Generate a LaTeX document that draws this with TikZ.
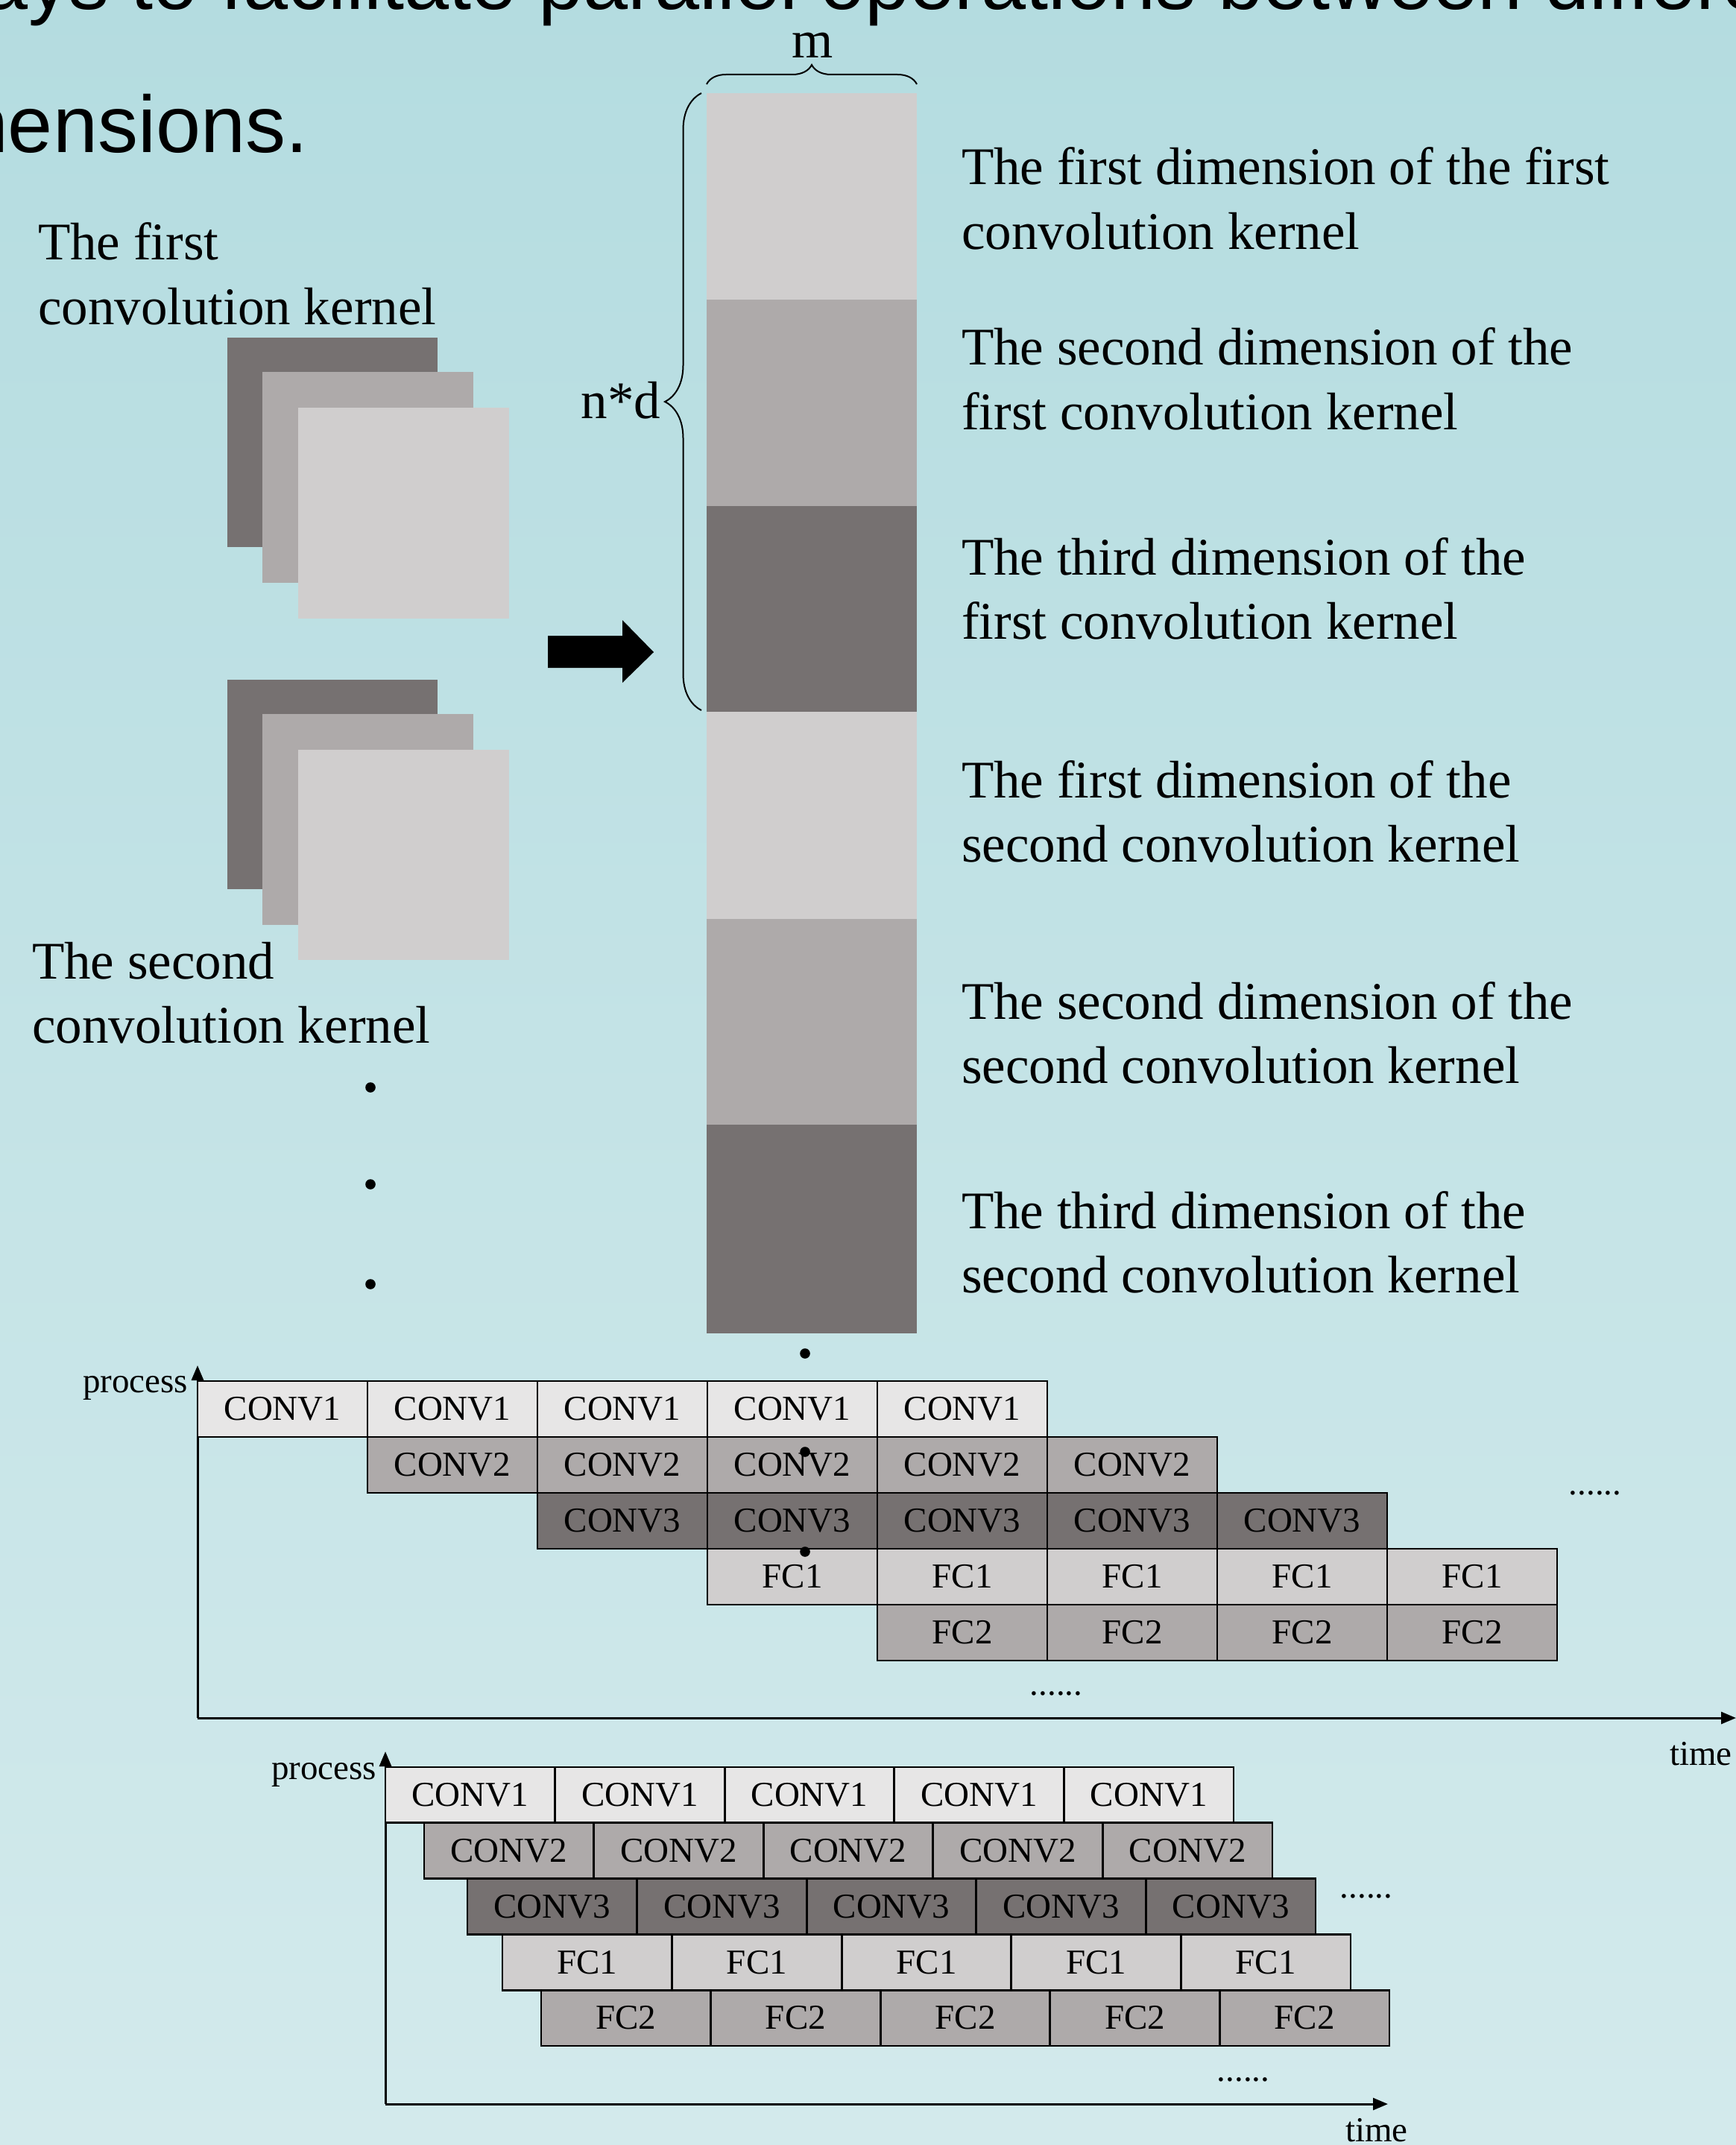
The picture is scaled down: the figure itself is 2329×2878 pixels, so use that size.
\documentclass[tikz,border=0pt]{standalone}
\usepackage{fontspec}
\setmainfont{Liberation Serif}
\newfontfamily\titlefont{Liberation Sans}
\usetikzlibrary{decorations.pathreplacing,arrows.meta}
\definecolor{bgtop}{RGB}{180,220,224}
\definecolor{bgbot}{RGB}{211,234,236}
\definecolor{gA}{HTML}{E7E6E6}
\definecolor{gB}{HTML}{D0CECE}
\definecolor{gC}{HTML}{AEAAAA}
\definecolor{gD}{HTML}{767171}
\newcommand\mytwolines[2]{\vtop{\baselineskip=21.7pt\hbox{#1}\hbox{#2}}}
\begin{document}
\begin{tikzpicture}[x=0.25pt,y=-0.25pt,
  bigtext/.style={inner sep=0pt, outer sep=0pt, font=\fontsize{17.75}{21.7}\selectfont, anchor=base west},
  smalltext/.style={inner sep=0pt, outer sep=0pt, font=\fontsize{11.75}{14}\selectfont},
  titletext/.style={inner sep=0pt, outer sep=0pt, anchor=base west, font={\titlefont\fontsize{27}{32}\selectfont}},
  cell/.style={draw=black, line width=0.7pt, inner sep=0pt, outer sep=0pt, anchor=north west,
    minimum width=57pt, minimum height=18.75pt, font=\fontsize{11.75}{14}\selectfont},
  cellb/.style={cell, minimum width=56.9pt, minimum height=18.7pt},
  axis/.style={line width=0.75pt, -{Triangle[length=5pt,width=4pt]}},
  brc/.style={decorate, line width=0.5pt},
  dotmark/.style={fill=black}
]
\useasboundingbox (0,0) rectangle (2329,2878);
\shade[top color=bgtop, bottom color=bgbot] (0,0) rectangle (2329,2878);

% title (cut off)
\node[titletext] (t1) at (-100,13) {ways to facilitate parallel operations between different};
\node[titletext] (t2) at (-163,205) {dimensions.};

% kernel stacks
\fill[gD] (305,453) rectangle (587,734);
\fill[gC] (352,499) rectangle (635,782);
\fill[gB] (400,547) rectangle (683,830);
\fill[gD] (305,912) rectangle (587,1193);
\fill[gC] (352,958) rectangle (635,1241);
\fill[gB] (400,1006) rectangle (683,1288);

\node[bigtext] (l1) at (51,349) {\mytwolines{The first}{convolution kernel}};
\node[bigtext] (l2) at (43,1313) {\mytwolines{The second}{convolution kernel}};

% vertical dots left
\fill[dotmark] (497,1459) circle[radius=1.7pt];
\fill[dotmark] (497,1589) circle[radius=1.7pt];
\fill[dotmark] (497,1723) circle[radius=1.7pt];

% block arrow
\fill[black] (735,853) -- (835,853) -- (835,832) -- (877,875) -- (835,916) -- (835,896) -- (735,896) -- cycle;

% column
\fill[gB] (948,125) rectangle (1230,402);
\fill[gC] (948,402) rectangle (1230,679);
\fill[gD] (948,679) rectangle (1230,955);
\fill[gB] (948,955) rectangle (1230,1233);
\fill[gC] (948,1233) rectangle (1230,1509);
\fill[gD] (948,1509) rectangle (1230,1789);

% braces
\draw[brc, decoration={brace, amplitude=6.5pt}] (948,113) -- (1230,113);
\node[bigtext, anchor=base] (mlab) at (1090,78) {m};
\draw[brc, decoration={brace, amplitude=12.25pt}] (941,953) -- (941,125);
\node[bigtext, anchor=base east] (nd) at (886,561) {n*d};

% right labels
\node[bigtext] (r1) at (1290,248) {\mytwolines{The first dimension of the first}{convolution kernel}};
\node[bigtext] (r2) at (1290,490) {\mytwolines{The second dimension of the}{first convolution kernel}};
\node[bigtext] (r3) at (1290,771) {\mytwolines{The third dimension of the}{first convolution kernel}};
\node[bigtext] (r4) at (1290,1070) {\mytwolines{The first dimension of the}{second convolution kernel}};
\node[bigtext] (r5) at (1290,1367) {\mytwolines{The second dimension of the}{second convolution kernel}};
\node[bigtext] (r6) at (1290,1648) {\mytwolines{The third dimension of the}{second convolution kernel}};

% ---------- process diagram 1 ----------
\coordinate (o1) at (265,2305);
\coordinate (y1) at (265,1832);
\coordinate (x1) at (2329,2305);
\draw[axis] (o1) -- (y1);
\draw[axis] (o1) -- (x1);
\foreach \r/\lab/\col/\cs/\ce in {0/CONV1/gA/0/4, 1/CONV2/gC/1/5, 2/CONV3/gD/2/6, 3/FC1/gB/3/7, 4/FC2/gC/4/7} {
  \foreach \c in {\cs,...,\ce} {
    \node[cell, fill=\col] (p\r-\c) at ({265+228*\c},{1853+75*\r}) {\lab};
  }
}
\node[smalltext, anchor=base east] (pr1) at (252,1868) {process};
\node[smalltext, anchor=base west] (tm1) at (2240,2368) {time};
\node[smalltext, anchor=base] (e1a) at (2140,2005) {......};
\node[smalltext, anchor=base] (e1b) at (1417,2274) {......};

% ---------- process diagram 2 ----------
\coordinate (o2) at (517,2823);
\coordinate (y2) at (517,2350);
\coordinate (x2) at (1862,2823);
\draw[axis] (o2) -- (y2);
\draw[axis] (o2) -- (x2);
\foreach \r/\lab/\col/\s in {0/CONV1/gA/517, 1/CONV2/gC/569, 2/CONV3/gD/627, 3/FC1/gB/674, 4/FC2/gC/726} {
  \foreach \c in {0,...,4} {
    \node[cellb, fill=\col] (q\r-\c) at ({\s+227.6*\c},{2371+74.8*\r}) {\lab};
  }
}
\node[smalltext, anchor=base east] (pr2) at (505,2387) {process};
\node[smalltext, anchor=base west] (tm2) at (1805,2873) {time};
\node[smalltext, anchor=base] (e2a) at (1833,2546) {......};
\node[smalltext, anchor=base] (e2b) at (1668,2792) {......};

% vertical dots under column (drawn over the table)
\fill[dotmark] (1080,1816) circle[radius=1.7pt];
\fill[dotmark] (1080,1948) circle[radius=1.7pt];
\fill[dotmark] (1080,2082) circle[radius=1.7pt];
\end{tikzpicture}
\end{document}
